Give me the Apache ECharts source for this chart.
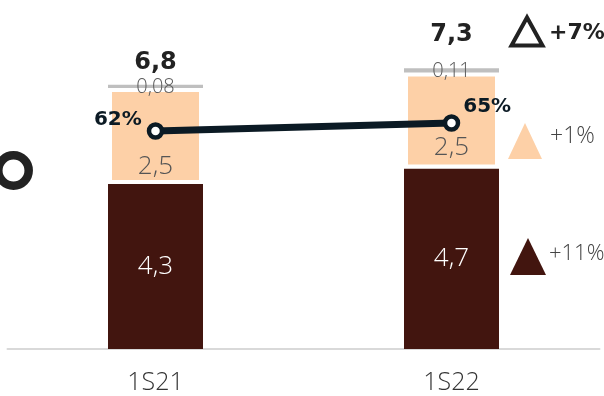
<!DOCTYPE html>
<html>
<head>
<meta charset="utf-8">
<script src="https://cdn.jsdelivr.net/npm/echarts@6/dist/echarts.min.js"></script>
<style>
  html, body { margin: 0; padding: 0; background: #fff; }
  #chart { width: 604px; height: 396px; }
</style>
</head>
<body>
<div id="chart"></div>
<script>
// Half-year figures
var categories = ['1S21', '1S22'];
var baseValues = [4.3, 4.7];      // dark segment
var midValues = [2.5, 2.5];       // light segment
var topValues = [0.08, 0.11];     // thin grey segment
var totals = [6.8, 7.3];
var shareValues = [62, 65];       // line, percent
var changeLabels = ['+7%', '+1%', '+11%'];

var DARK = '#42150f';
var PEACH = '#fdd0a7';
var GREY = '#bfbfbf';
var NAVY = '#0b1a24';
var LIGHT_FONT = '"Open Sans", sans-serif';
var BOLD_FONT = '"DejaVu Sans", sans-serif';

function fmt(v) { return String(v).replace('.', ','); }

var chart = echarts.init(document.getElementById('chart'));

var option = {
  animation: false,
  grid: { left: 7.5, right: 4.5, top: 3.4, bottom: 47 },
  xAxis: {
    type: 'category',
    data: categories,
    axisTick: { show: false },
    axisLine: { lineStyle: { color: '#d9d9d9', width: 2 } },
    axisLabel: { color: '#333', fontFamily: LIGHT_FONT, fontWeight: 300, fontSize: 25, margin: 21 }
  },
  yAxis: [
    { type: 'value', min: 0, max: 9, show: false, splitLine: { show: false } },
    { type: 'value', min: -20, max: 110, show: false, splitLine: { show: false } }
  ],
  series: [
    {
      type: 'bar', stack: 'total', barWidth: 95,
      data: baseValues,
      itemStyle: { color: DARK },
      label: {
        show: true, position: 'inside', color: '#fff',
        fontFamily: LIGHT_FONT, fontWeight: 300, fontSize: 26,
        formatter: function (p) { return fmt(p.value); }
      }
    },
    {
      type: 'bar', stack: 'total', barWidth: 95,
      data: [
        { value: midValues[0], label: { offset: [0, 1] } },
        { value: midValues[1], label: { offset: [0, -3] } }
      ],
      itemStyle: { color: PEACH, borderColor: '#fff', borderWidth: 4 },
      label: {
        show: true, position: 'insideBottom', distance: 5, color: '#555',
        fontFamily: LIGHT_FONT, fontWeight: 300, fontSize: 26,
        formatter: function (p) { return fmt(p.value); }
      }
    },
    {
      type: 'bar', stack: 'total', barWidth: 97,
      data: topValues,
      itemStyle: { color: GREY },
      label: {
        show: true, position: 'inside', offset: [0, 1], color: '#5a5a5a',
        fontFamily: LIGHT_FONT, fontWeight: 300, fontSize: 20,
        formatter: function (p) { return fmt(p.value); }
      }
    },
    {
      type: 'bar', stack: 'total', barWidth: 95,
      data: [
        { value: 0, label: { offset: [0, -4] } },
        { value: 0, label: { offset: [0, -16] } }
      ],
      itemStyle: { color: 'transparent' },
      label: {
        show: true, position: 'top', distance: 6, color: '#222',
        fontFamily: BOLD_FONT, fontWeight: 700, fontSize: 24,
        formatter: function (p) { return fmt(totals[p.dataIndex]); }
      }
    },
    {
      type: 'line', yAxisIndex: 1,
      data: [
        { value: shareValues[0], label: { position: 'left', offset: [0, -11] } },
        { value: shareValues[1], label: { position: 'right', offset: [-2, -16] } }
      ],
      lineStyle: { color: NAVY, width: 7 },
      symbol: 'circle', symbolSize: 13,
      itemStyle: { color: '#fff', borderColor: NAVY, borderWidth: 4.5 },
      label: {
        show: true, color: NAVY, distance: 5,
        fontFamily: BOLD_FONT, fontWeight: 700, fontSize: 20,
        formatter: function (p) { return p.value + '%'; }
      },
      z: 5
    }
  ],
  graphic: [
    // ring at left edge
    { type: 'circle', shape: { cx: 13.5, cy: 170.5, r: 15.2 },
      style: { fill: 'none', stroke: '#222', lineWidth: 8.5 } },
    // change indicators
    { type: 'polygon', shape: { points: [[527, 17.5], [511.5, 45.5], [542.5, 45.5]] },
      style: { fill: 'none', stroke: '#222', lineWidth: 4, lineJoin: 'miter' } },
    { type: 'text', left: 549, top: 22,
      style: { text: changeLabels[0], fill: '#222', font: '700 22px "DejaVu Sans", sans-serif' } },
    { type: 'polygon', shape: { points: [[525, 123], [508, 159], [542, 159]] },
      style: { fill: PEACH } },
    { type: 'text', left: 550, top: 125,
      style: { text: changeLabels[1], fill: '#444', font: '300 23px "Open Sans", sans-serif' } },
    { type: 'polygon', shape: { points: [[528, 238], [510, 275], [546, 275]] },
      style: { fill: DARK } },
    { type: 'text', left: 549, top: 243,
      style: { text: changeLabels[2], fill: '#444', font: '300 22px "Open Sans", sans-serif' } }
  ]
};

chart.setOption(option);
</script>
</body>
</html>
